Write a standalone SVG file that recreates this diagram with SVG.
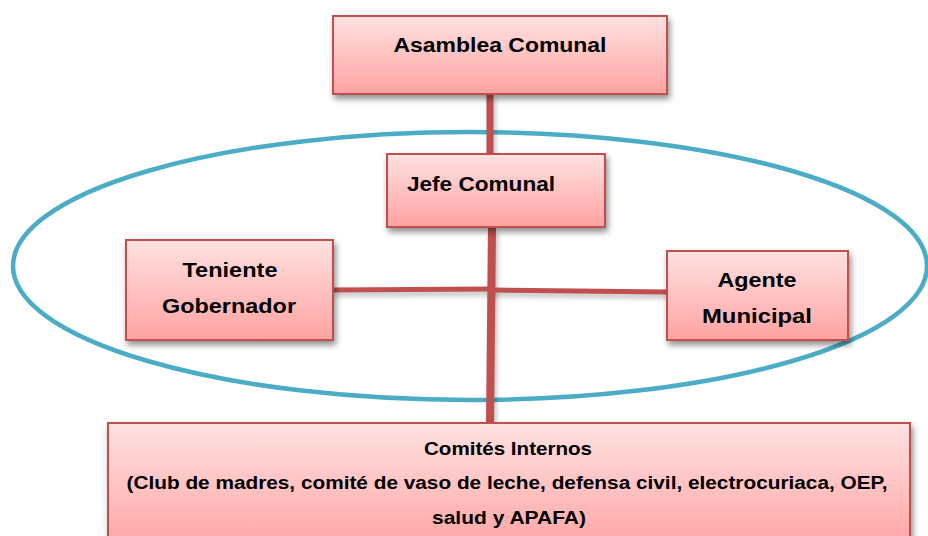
<svg xmlns="http://www.w3.org/2000/svg" width="928" height="536" viewBox="0 0 928 536">
  <defs>
    <linearGradient id="g" x1="0" y1="0" x2="0" y2="1">
      <stop offset="0" stop-color="#ffe1e1"/>
      <stop offset="1" stop-color="#ffa3a2"/>
    </linearGradient>
    <filter id="sh" x="-10%" y="-10%" width="125%" height="135%">
      <feGaussianBlur in="SourceAlpha" stdDeviation="3"/>
      <feOffset dx="2" dy="4" result="b"/>
      <feComponentTransfer><feFuncA type="linear" slope="0.45"/></feComponentTransfer>
      <feMerge><feMergeNode/><feMergeNode in="SourceGraphic"/></feMerge>
    </filter>
    <filter id="blur" filterUnits="userSpaceOnUse" x="0" y="0" width="928" height="536">
      <feGaussianBlur stdDeviation="2.5"/>
    </filter>
  </defs>
  <style>
    .box { fill: url(#g); stroke: #c0504d; stroke-width: 2; filter: url(#sh); }
    .t { font-family: "Liberation Sans", Arial, sans-serif; font-weight: bold; font-size: 20px; fill: #000; text-anchor: middle; }
    .s { font-size: 18px; }
    .c { stroke: #c0504d; fill: none; }
    .cs { stroke: #000; stroke-opacity: 0.25; fill: none; }
  </style>
  <rect width="928" height="536" fill="#fff"/>
  <ellipse id="ring" cx="470" cy="266" rx="457" ry="134" fill="none" stroke="#4bacc6" stroke-width="4.5"/>
  <g id="connectors">
    <g filter="url(#blur)" transform="translate(2,4)">
      <line class="cs" x1="490" y1="94" x2="490" y2="155" stroke-width="7"/>
      <line class="cs" x1="333" y1="290" x2="492" y2="289" stroke-width="5"/>
      <line class="cs" x1="492" y1="290" x2="667" y2="292" stroke-width="5"/>
      <line class="cs" x1="492" y1="228" x2="490" y2="424" stroke-width="8"/>
    </g>
    <line class="c" x1="490" y1="94" x2="490" y2="155" stroke-width="7"/>
    <line class="c" x1="333" y1="290" x2="492" y2="289" stroke-width="5"/>
    <line class="c" x1="492" y1="290" x2="667" y2="292" stroke-width="5"/>
    <line class="c" x1="492" y1="228" x2="490" y2="424" stroke-width="8"/>
  </g>
  <g id="asamblea">
    <rect class="box" x="333" y="16" width="334" height="78"/>
    <text class="t" x="500" y="52" textLength="213" lengthAdjust="spacingAndGlyphs">Asamblea Comunal</text>
  </g>
  <g id="jefe">
    <rect class="box" x="387" y="154" width="218" height="73"/>
    <text class="t" x="481" y="191" textLength="148" lengthAdjust="spacingAndGlyphs">Jefe Comunal</text>
  </g>
  <g id="teniente">
    <rect class="box" x="126" y="240" width="207" height="100"/>
    <text class="t" x="230" y="277" textLength="95" lengthAdjust="spacingAndGlyphs">Teniente</text>
    <text class="t" x="229" y="313" textLength="134" lengthAdjust="spacingAndGlyphs">Gobernador</text>
  </g>
  <g id="agente">
    <rect class="box" x="667" y="251" width="181" height="89"/>
    <text class="t" x="757" y="287" textLength="79" lengthAdjust="spacingAndGlyphs">Agente</text>
    <text class="t" x="757" y="323" textLength="110" lengthAdjust="spacingAndGlyphs">Municipal</text>
  </g>
  <g id="comites">
    <rect class="box" x="108" y="423" width="802" height="130"/>
    <text class="t s" x="508" y="455" textLength="168" lengthAdjust="spacingAndGlyphs">Comités Internos</text>
    <text class="t s" x="507" y="489" textLength="761" lengthAdjust="spacingAndGlyphs">(Club de madres, comité de vaso de leche, defensa civil, electrocuriaca, OEP,</text>
    <text class="t s" x="509" y="524" textLength="154" lengthAdjust="spacingAndGlyphs">salud y APAFA)</text>
  </g>
</svg>
